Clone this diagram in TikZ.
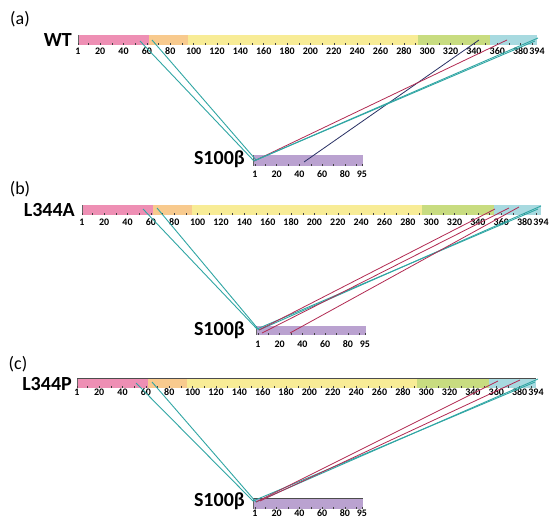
\documentclass[tikz,border=0pt]{standalone}
\usepackage{fontspec}
\setmainfont{Carlito}
\definecolor{cpink}{RGB}{238,143,180}
\definecolor{corange}{RGB}{248,202,142}
\definecolor{cyellow}{RGB}{248,236,150}
\definecolor{cgreen}{RGB}{200,220,128}
\definecolor{ccyan}{RGB}{168,218,224}
\definecolor{cpurple}{RGB}{186,162,208}
\definecolor{lnteal}{RGB}{48,166,164}
\definecolor{lnred}{RGB}{178,42,82}
\definecolor{lnnavy}{RGB}{40,48,100}
\tikzset{
  ticklab/.style={font=\bfseries\fontsize{10}{11}\selectfont, anchor=base, inner sep=0pt},
  protlab/.style={font=\bfseries\fontsize{20}{22}\selectfont, anchor=base east, inner sep=0pt},
  panellab/.style={font=\fontsize{18}{20}\selectfont, inner sep=0pt},
  tickmark/.style={draw=black!75, line width=0.5pt},
  tealln/.style={draw=lnteal, line width=0.9pt},
  redln/.style={draw=lnred, line width=0.8pt},
  navyln/.style={draw=lnnavy, line width=0.8pt},
}
% full-length protein: x0, top, bottom, label baseline (1.168 px per residue)
\newcommand\fullbar[4]{%
  \fill[cpink]   (#1,#2) rectangle ({#1+71.2},#3);
  \fill[corange] ({#1+71.2},#2) rectangle ({#1+109.8},#3);
  \fill[cyellow] ({#1+109.8},#2) rectangle ({#1+339.9},#3);
  \fill[cgreen]  ({#1+339.9},#2) rectangle ({#1+412.3},#3);
  \fill[ccyan]   ({#1+412.3},#2) rectangle ({#1+459},#3);
  \draw[black!60, line width=0.6pt] (#1,#2) -- (#1,#3);
  \foreach \r in {1,10,20,...,390}
    \draw[tickmark] ({#1+(\r-1)*1.168},#3) -- ({#1+(\r-1)*1.168},{#3-2});
  \node[ticklab] at (#1,#4) {1};
  \foreach \r in {20,40,...,380}
    \node[ticklab] at ({#1+(\r-1)*1.168},#4) {\r};
  \node[ticklab] at ({#1+459},#4) {394};
}
% S100 beta: x0, top, bottom, label baseline
\newcommand\shortbar[4]{%
  \fill[cpurple] (#1,#2) rectangle ({#1+110},#3);
  \draw[black!60, line width=0.6pt] (#1,#2) -- (#1,#3);
  \foreach \r in {1,10,20,...,90,95}
    \draw[tickmark] ({#1+2+(\r-1)*1.138},#3) -- ({#1+2+(\r-1)*1.138},{#3-2});
  \foreach \r in {1,20,40,60,80,95}
    \node[ticklab] at ({#1+2+(\r-1)*1.138},#4) {\r};
}
\begin{document}
\begin{tikzpicture}[x=1pt,y=-1pt]
\useasboundingbox (0,0) rectangle (552,519);
\fill[white] (0,0) rectangle (552,519);

% ---------- panel (a)
\node[panellab] (pa) at (20,19) {(a)};
\node[protlab] (wt) at (72,47) {WT};
\fullbar{78}{35}{45}{55}
\node[protlab] (sa) at (245,164) {S100β};
\shortbar{253}{155}{166}{177}

\coordinate (a1) at (140,41);
\coordinate (a2) at (152,40);
\coordinate (a3) at (479,40);
\coordinate (a4) at (507,40);
\coordinate (a5) at (535,41);
\coordinate (a6) at (538,38);
\coordinate (sa0) at (254,161);
\coordinate (sa1) at (256,160);
\coordinate (sa2) at (304,162);
\draw[tealln] (a1) -- (sa0);
\draw[tealln] (a2) -- (sa1);
\draw[navyln] (sa2) -- (a3);
\draw[redln] (sa0) -- (a4);
\draw[tealln] (sa1) -- (a5);
\draw[tealln] (sa0) -- (a6);

% ---------- panel (b)
\node[panellab] (pb) at (20,189) {(b)};
\node[protlab] (la) at (75,216) {L344A};
\fullbar{82}{205}{215}{225}
\node[protlab] (sb) at (245,335) {S100β};
\shortbar{256}{326}{335}{347}

\coordinate (b1) at (143,209);
\coordinate (b2) at (157,208);
\coordinate (b3) at (495,209);
\coordinate (b4) at (509,208);
\coordinate (b5) at (519,207);
\coordinate (b6) at (538,209);
\coordinate (b7) at (541,206);
\coordinate (sb0) at (257,329);
\coordinate (sb1) at (259,330);
\coordinate (sb2) at (262,333);
\coordinate (sb3) at (290,333);
\draw[tealln] (b1) -- (sb0);
\draw[tealln] (b2) -- (sb1);
\draw[tealln] (sb0) -- (b6);
\draw[tealln] (sb1) -- (b7);
\draw[redln] (sb1) -- (b3);
\draw[redln] (sb2) -- (b4);
\draw[redln] (sb3) -- (b5);

% ---------- panel (c)
\node[panellab] (pc) at (18,364) {(c)};
\node[protlab] (lp) at (72,390) {L344P};
\fullbar{77}{378}{388}{395}
\draw[black!70, line width=1pt] (77,378) -- (536,378);
\node[protlab] (sc) at (245,506) {S100β};
\shortbar{253}{498}{509}{516.5}
\draw[black!70, line width=1pt] (253,498) -- (363,498);

\coordinate (c1) at (136,383);
\coordinate (c2) at (152,382);
\coordinate (c3) at (498,381);
\coordinate (c4) at (520,380);
\coordinate (c5) at (535,382);
\coordinate (c6) at (538,379);
\coordinate (sc0) at (253,501);
\coordinate (sc1) at (256,502);
\coordinate (sc2) at (260,501);
\draw[tealln] (c1) -- (sc0);
\draw[tealln] (c2) -- (sc1);
\draw[tealln] (sc0) -- (c5);
\draw[tealln] (sc1) -- (c6);
\draw[redln] (sc1) -- (c3);
\draw[redln] (sc2) -- (c4);
\end{tikzpicture}
\end{document}
